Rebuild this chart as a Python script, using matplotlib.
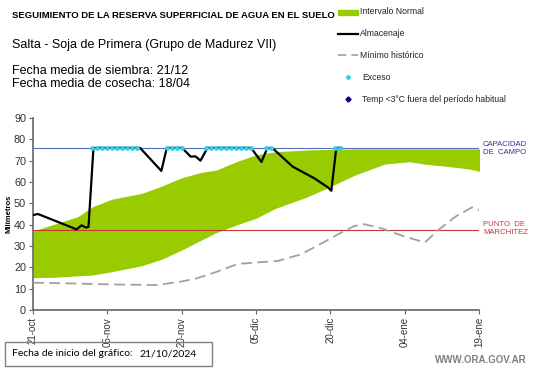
import matplotlib.pyplot as plt
from matplotlib.patches import Rectangle
from matplotlib.lines import Line2D

# dias desde el 21-oct-2024
tick_dias = [0, 15, 30, 45, 60, 75, 90]
tick_labels = ['21-oct', '05-nov', '20-nov', '05-dic', '20-dic', '04-ene', '19-ene']

capacidad_campo = 76
punto_marchitez = 37.3

# intervalo normal (banda verde)
banda_dias = [0, 4, 9, 12, 16, 22, 26, 30, 34, 37, 41, 45, 49, 55, 60, 65, 71, 76, 79, 84, 88, 90.5]
banda_sup = [37, 40, 43.7, 48.4, 52, 54.7, 58.1, 62, 64.5, 65.6, 69.5, 72.7, 74.2, 75, 75.3, 75.5, 75.5, 75.5, 75.5, 75.5, 75.5, 75.5]
banda_inf = [15.2, 15.3, 16, 16.4, 18, 20.8, 23.8, 28.1, 32.8, 36.3, 39.8, 43, 47.7, 52.7, 57.8, 63.3, 68.4, 69.5, 68.4, 67.2, 66.1, 64.8]

# almacenaje
alm_dias = [0, 1, 8.8, 9.8, 10.7, 11.2, 12.2, 21.6, 25.9, 27, 30.1, 31.8, 32.8, 33.8, 35.2,
            44, 46.1, 47.3, 48.5, 52.4, 56.8, 59.5, 60.2, 61.2, 62.2]
alm_vals = [44.5, 45, 37.8, 39.7, 38.6, 39, 76, 76, 65.2, 76, 76, 71.9, 72, 70, 76,
            76, 69.4, 76, 75.5, 67.2, 61.7, 57.5, 55.9, 76, 76]

# excesos
exceso_dias = [12, 13, 14, 15, 16, 17, 18, 19, 20, 21, 27, 28, 29, 30,
               35, 36, 37, 38, 39, 40, 41, 42, 43, 44, 47, 48, 61, 62]

# minimo historico
min_dias = [0, 7, 15.6, 25, 29.8, 33, 37.2, 41.3, 44.6, 49.4, 54.1, 58.2, 62.2, 64.9, 66.9,
            70.3, 75, 79.1, 81.8, 85.2, 88.6, 90.5]
min_vals = [12.8, 12.5, 12, 11.7, 13.3, 14.8, 18, 21.6, 22.2, 23, 26.1, 31.2, 36.3, 39.4, 40.2,
            38.3, 34.4, 31.7, 37.5, 43.7, 48.1, 46.4]

W, H = 541, 368
plt.rcParams['font.family'] = ['Liberation Sans', 'DejaVu Sans']
fig = plt.figure(figsize=(W / 100, H / 100), dpi=100)
ax = fig.add_axes([33 / W, 1 - 310 / H, 446 / W, 192 / H])

verde = '#99CC00'
ax.fill_between(banda_dias, banda_inf, banda_sup, color=verde, lw=0, zorder=1)
ax.axhline(capacidad_campo, color='#4F6FC0', lw=0.8, zorder=2)
ax.axhline(punto_marchitez, color='#C0392B', lw=0.8, zorder=2)
ax.plot(min_dias, min_vals, color='#A0A0A0', lw=1.3, dashes=(6, 3), zorder=3)
ax.plot(alm_dias, alm_vals, color='black', lw=1.6, zorder=4)
ax.plot(exceso_dias, [capacidad_campo] * len(exceso_dias), ls='none', marker='o',
        ms=2.4, mfc='#33CCEE', mec='#33CCEE', zorder=5)

ax.set_xlim(0, 90)
ax.set_ylim(0, 90)
ax.set_xticks(tick_dias)
ax.set_xticklabels(tick_labels, rotation=90, fontsize=7, color='#333333')
ax.set_yticks(range(0, 91, 10))
ax.tick_params(axis='y', labelsize=7.8, labelcolor='#333333', length=3, color='#666666', pad=2)
ax.tick_params(axis='x', length=3, color='#666666', pad=2)
for s in ['top', 'right']:
    ax.spines[s].set_visible(False)
for s in ['left', 'bottom']:
    ax.spines[s].set_color('#666666')
    ax.spines[s].set_linewidth(1.2)
ax.set_ylabel('Milímetros', fontsize=5.5, fontweight='bold', labelpad=1)

ax.text(90.8, 75.6, 'CAPACIDAD\nDE  CAMPO', color='#3333AA', fontsize=5.6, va='center', ha='left',
        linespacing=1.15)
ax.text(90.8, 38.2, 'PUNTO  DE\nMARCHITEZ', color='#CC3333', fontsize=5.6, va='center', ha='left',
        linespacing=1.15)

def fx(px):
    return px / W

def fy(py):
    return 1 - py / H

fig.text(fx(12), fy(16), 'SEGUIMIENTO DE LA RESERVA SUPERFICIAL DE AGUA EN EL SUELO',
         fontsize=6.8, fontweight='bold', va='center')
fig.text(fx(12), fy(45), 'Salta - Soja de Primera (Grupo de Madurez VII)', fontsize=9, va='center')
fig.text(fx(12), fy(71), 'Fecha media de siembra: 21/12', fontsize=9, va='center')
fig.text(fx(12), fy(84), 'Fecha media de cosecha: 18/04', fontsize=9, va='center')

# leyenda manual
fig.add_artist(Rectangle((fx(338), fy(14.5)), 20 / W, 4.5 / H, color=verde, transform=fig.transFigure))
fig.add_artist(Line2D([fx(338), fx(358)], [fy(34), fy(34)], color='black', lw=1.6))
fig.add_artist(Line2D([fx(338), fx(358)], [fy(55), fy(55)], color='#A0A0A0', lw=1.2, dashes=(5, 3)))
fig.add_artist(Line2D([fx(348)], [fy(77)], ls='none', marker='o', ms=2.4, mfc='#33CCEE', mec='#33CCEE'))
fig.add_artist(Line2D([fx(348)], [fy(99)], ls='none', marker='D', ms=2.6, mfc='#000080', mec='#000080'))
leyenda = [(12, 360, 'Intervalo Normal'), (34, 360, 'Almacenaje'), (55, 360, 'Mínimo histórico'),
           (77, 362, 'Exceso'), (99, 362, 'Temp <3°C fuera del período habitual')]
for py, px, txt in leyenda:
    fig.text(fx(px), fy(py), txt, fontsize=6.2, va='center', color='#222222')

fig.add_artist(Rectangle((fx(5), fy(366)), 207 / W, 24 / H, fill=False, ec='#8B7D7B', lw=1,
                         transform=fig.transFigure))
fig.text(fx(12), fy(354), 'Fecha de inicio del gráfico:', family=['Lato', 'DejaVu Sans'], fontsize=7.5, va='center')
fig.text(fx(139), fy(354), '21/10/2024', family=['Lato', 'DejaVu Sans'], fontsize=7.5, va='center')
fig.text(fx(527), fy(360), 'WWW.ORA.GOV.AR', fontsize=7, fontweight='bold', color='#808080',
         ha='right', va='center')

fig.savefig('out.png', dpi=100)
